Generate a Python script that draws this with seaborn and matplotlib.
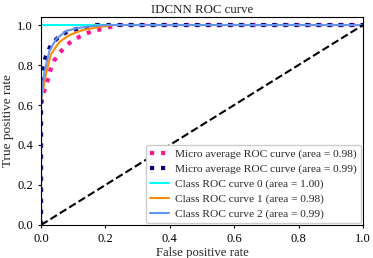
import matplotlib.pyplot as plt
import seaborn as sns

# ROC curve points
micro_a_fpr = [0.0, 0.0, 0.004, 0.01, 0.02, 0.028, 0.04, 0.057, 0.08, 0.10, 0.13, 0.16, 0.19, 0.24, 1.0]
micro_a_tpr = [0.0, 0.60, 0.63, 0.67, 0.72, 0.77, 0.82, 0.86, 0.90, 0.925, 0.95, 0.97, 0.98, 1.0, 1.0]

micro_b_fpr = [0.0, 0.0, 0.002, 0.007, 0.018, 0.031, 0.054, 0.08, 0.11, 0.14, 0.17, 1.0]
micro_b_tpr = [0.0, 0.72, 0.75, 0.805, 0.855, 0.90, 0.94, 0.965, 0.98, 0.99, 1.0, 1.0]

class0_fpr = [0.0, 0.0, 1.0]
class0_tpr = [0.0, 1.0, 1.0]

class1_fpr = [0.0, 0.0, 0.016, 0.031, 0.057, 0.088, 0.13, 0.18, 0.23, 1.0]
class1_tpr = [0.0, 0.62, 0.76, 0.855, 0.915, 0.95, 0.975, 0.99, 1.0, 1.0]

class2_fpr = [0.0, 0.0, 0.01, 0.026, 0.047, 0.078, 0.114, 0.16, 0.2, 1.0]
class2_tpr = [0.0, 0.62, 0.76, 0.87, 0.93, 0.97, 0.985, 0.995, 1.0, 1.0]

diag = [0.0, 1.0]

sns.set_style("ticks")
plt.rcParams["font.family"] = ["Liberation Serif", "DejaVu Serif"]

fig = plt.figure(figsize=(3.73, 2.58), dpi=100)
ax = fig.add_axes([0.110, 0.128, 0.863, 0.806])

sns.lineplot(x=micro_a_fpr, y=micro_a_tpr, ax=ax, estimator=None, sort=False,
             color="deeppink", linestyle=":", linewidth=3,
             label="Micro average ROC curve (area = 0.98)")
sns.lineplot(x=micro_b_fpr, y=micro_b_tpr, ax=ax, estimator=None, sort=False,
             color="navy", linestyle=":", linewidth=3,
             label="Micro average ROC curve (area = 0.99)")
sns.lineplot(x=class0_fpr, y=class0_tpr, ax=ax, estimator=None, sort=False,
             color="aqua", linewidth=1.5, label="Class ROC curve 0 (area = 1.00)")
sns.lineplot(x=class1_fpr, y=class1_tpr, ax=ax, estimator=None, sort=False,
             color="darkorange", linewidth=1.5, label="Class ROC curve 1 (area = 0.98)")
sns.lineplot(x=class2_fpr, y=class2_tpr, ax=ax, estimator=None, sort=False,
             color="cornflowerblue", linewidth=1.5, label="Class ROC curve 2 (area = 0.99)")
ax.plot(diag, diag, "k--", lw=1.5)

ax.set_xlim(0.0, 1.0)
ax.set_ylim(0.0, 1.04)
ax.set_xticks([0.0, 0.2, 0.4, 0.6, 0.8, 1.0])
ax.set_yticks([0.0, 0.2, 0.4, 0.6, 0.8, 1.0])
ax.tick_params(labelsize=9, length=2.5, width=0.8, pad=3.2, colors="black")
for s in ax.spines.values():
    s.set_color("black")
    s.set_linewidth(0.8)
ax.set_xlabel("False positive rate", fontsize=9.2, labelpad=1.5)
ax.set_ylabel("True positive rate", fontsize=9.5, labelpad=2.5)
ax.set_title("IDCNN ROC curve", fontsize=9.3, pad=3)
ax.legend(loc="lower right", fontsize=8.2, handlelength=1.6, borderpad=0.35,
          labelspacing=0.42, handletextpad=0.6, borderaxespad=0.15,
          framealpha=1, edgecolor="#cccccc", fancybox=True)

fig.savefig("out.png", dpi=100)
